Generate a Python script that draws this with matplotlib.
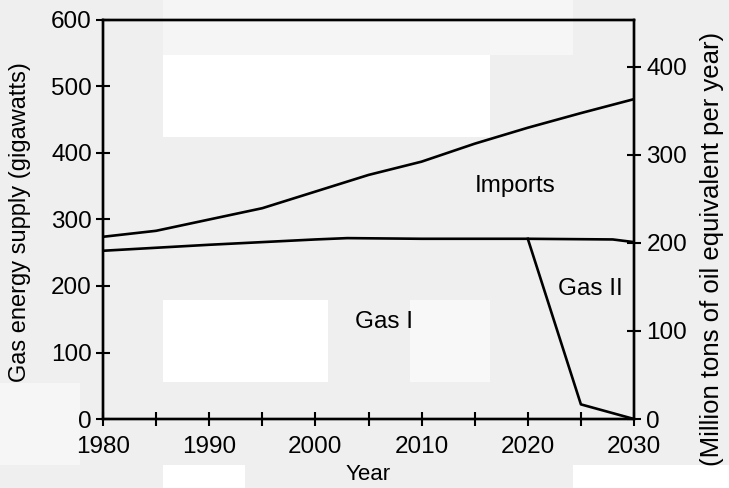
import matplotlib
matplotlib.use("Agg")
import matplotlib.pyplot as plt
from matplotlib.patches import Rectangle
from matplotlib.ticker import MultipleLocator

plt.rcParams['font.family'] = ['Liberation Sans', 'DejaVu Sans']

# Data
imports_years = [1980, 1985, 1990, 1995, 2000, 2005, 2010, 2015, 2020, 2025, 2030]
imports_top = [274, 283, 300, 317, 342, 367, 387, 414, 438, 460, 481]

gas1_years = [1980, 1990, 2000, 2003, 2010, 2020, 2028, 2030]
gas1_top = [253, 262, 270, 272, 271, 271, 270, 266]

gas2_years = [2020, 2025, 2030]
gas2_top = [271, 22, 0]

left_ticks = [0, 100, 200, 300, 400, 500, 600]
right_ticks = [0, 100, 200, 300, 400]
right_max = 453  # Mtoe equivalent to 600 GW

bg = '#efefef'
fig = plt.figure(figsize=(7.29, 4.88), dpi=100, facecolor=bg)

# light patches of the scanned background
for (x0, y0, w, h, c) in [(163, 55, 327, 82, 'white'), (163, 300, 165, 82, 'white'),
                          (410, 300, 80, 82, '#f8f8f8'), (490, 0, 83, 55, '#f6f6f6'),
                          (163, 0, 327, 55, '#f5f5f5'), (0, 383, 80, 82, '#f6f6f6'),
                          (163, 465, 82, 23, 'white'), (573, 465, 156, 23, 'white')]:
    fig.patches.append(Rectangle((x0 / 729, 1 - (y0 + h) / 488), w / 729, h / 488,
                                 transform=fig.transFigure, facecolor=c, edgecolor='none',
                                 zorder=-5))

ax = fig.add_axes([103 / 729, 69 / 488, 531 / 729, 399 / 488])
ax.set_facecolor('none')
ax.set_zorder(1)

lw = 1.9
ax.plot(imports_years, imports_top, color='black', lw=lw)
ax.plot(gas1_years, gas1_top, color='black', lw=lw)
ax.plot(gas2_years, gas2_top, color='black', lw=lw)

ax.set_xlim(1980, 2030)
ax.set_ylim(0, 600)
ax.set_yticks(left_ticks)
ax.xaxis.set_major_locator(MultipleLocator(10))
ax.xaxis.set_minor_locator(MultipleLocator(5))

for s in ax.spines.values():
    s.set_linewidth(1.7)

fs_tick = 17.5
ax.tick_params(axis='both', which='both', direction='inout', length=10, width=1.5,
               labelsize=fs_tick, color='black')
ax.tick_params(axis='x', pad=7)
ax.tick_params(axis='y', pad=3)

ax.set_xlabel('Year', fontsize=16)
ax.xaxis.set_label_coords(0.5, (419 - 474) / 399)
ax.xaxis.label.set_va('center')

ax.set_ylabel('Gas energy supply (gigawatts)', fontsize=17)
ax.yaxis.set_label_coords(-0.156, 0.494)
ax.yaxis.label.set_va('center')

ax2 = ax.twinx()
ax2.set_zorder(2)
ax2.set_ylim(0, right_max)
ax2.set_yticks(right_ticks)
ax2.tick_params(axis='y', direction='inout', length=10, width=1.5, labelsize=fs_tick, pad=4)
for s in ax2.spines.values():
    s.set_linewidth(1.7)
ax2.set_ylabel('(Million tons of oil equivalent per year)', fontsize=18.5)
ax2.yaxis.set_label_coords(1.147, 0.427)
ax2.yaxis.label.set_va('center')

ax.text(2018.8, 350, 'Imports', fontsize=17.5, ha='center', va='center')
ax.text(2006.5, 146, 'Gas I', fontsize=17.5, ha='center', va='center')
ax.text(2025.9, 195, 'Gas II', fontsize=17.5, ha='center', va='center')

fig.savefig('out.png', dpi=100, facecolor=bg)
